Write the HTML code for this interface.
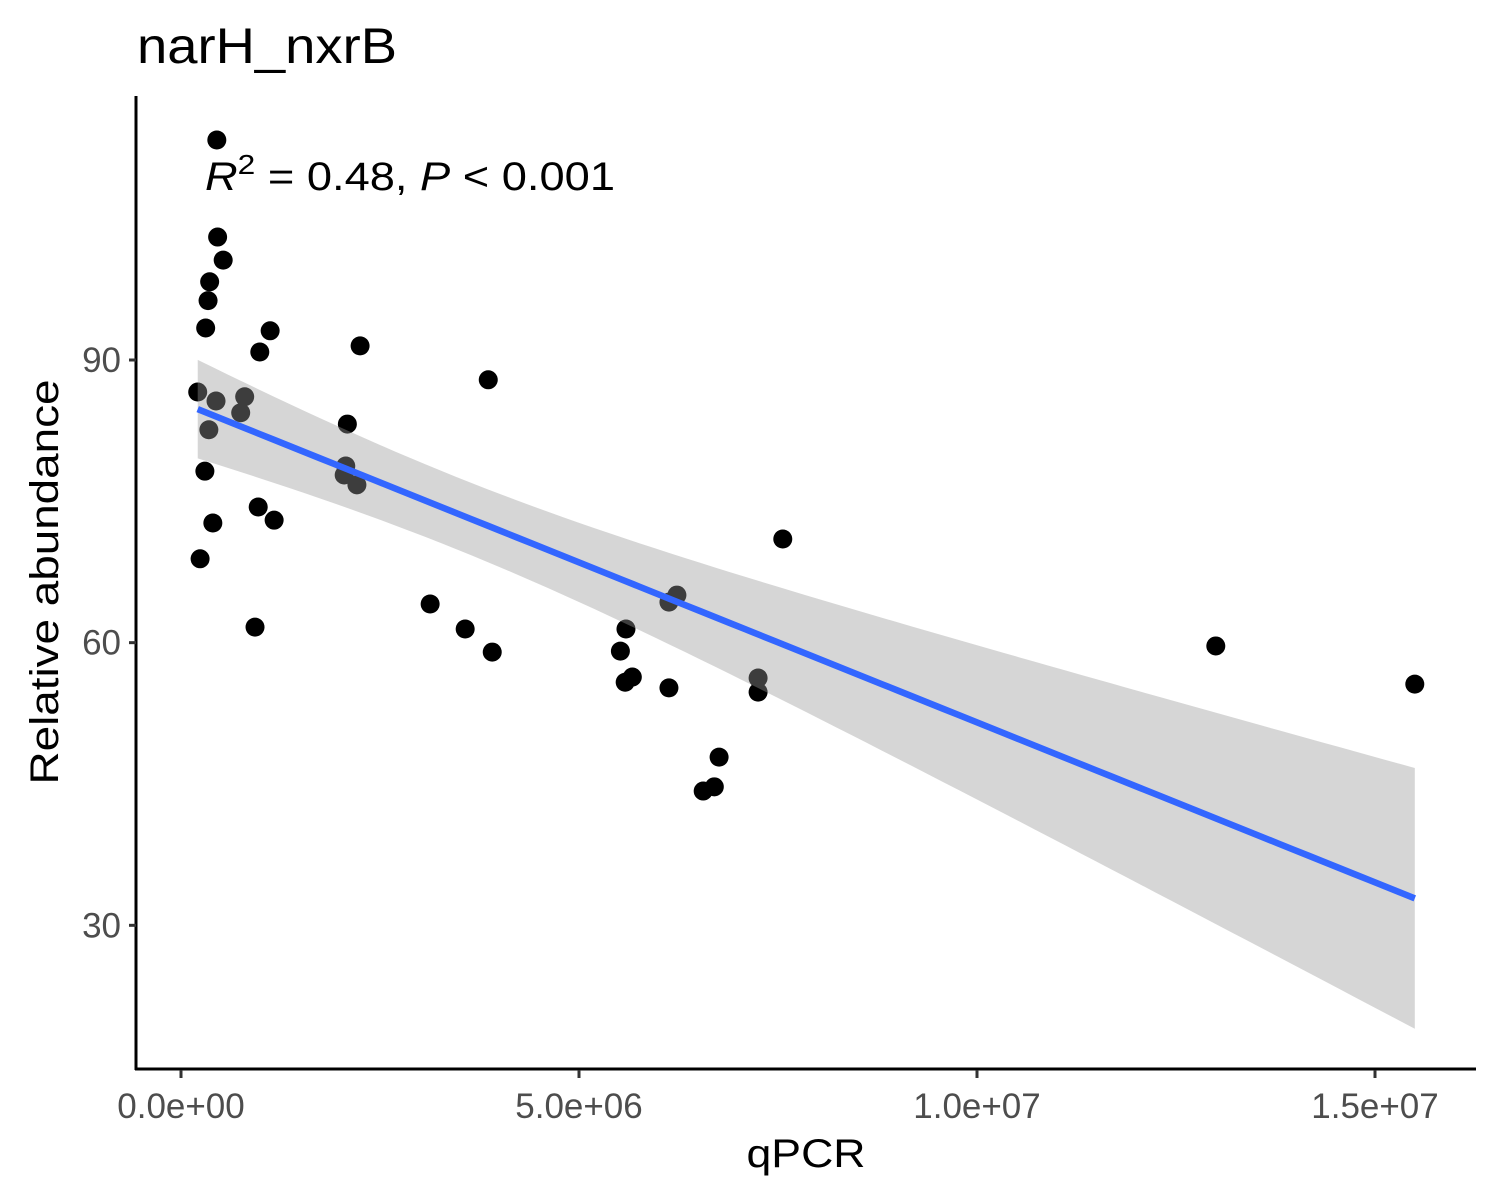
<!DOCTYPE html>
<html><head><meta charset="utf-8">
<style>
html,body{margin:0;padding:0;background:#fff;}
svg{display:block;font-family:"Liberation Sans",Arial,sans-serif;}
</style></head>
<body>
<svg id="chart" width="1500" height="1200" viewBox="0 0 1500 1200">
  <text x="137" y="63" font-size="50" textLength="260" lengthAdjust="spacingAndGlyphs" fill="#000">narH_nxrB</text>
  <g id="points"></g>
  <g id="smooth"></g>
  <text x="205" y="190" font-size="40" fill="#000" textLength="410" lengthAdjust="spacingAndGlyphs"><tspan font-style="italic">R</tspan><tspan dy="-16" font-size="28">2</tspan><tspan dy="16"> = 0.48, </tspan><tspan font-style="italic">P</tspan><tspan> &lt; 0.001</tspan></text>
  <line x1="136" y1="96" x2="136" y2="1070" stroke="#000" stroke-width="3"/>
  <line x1="135" y1="1069" x2="1476" y2="1069" stroke="#000" stroke-width="3"/>
  <g id="yticks"></g>
  <g id="xticks"></g>
  <text x="806" y="1167" font-size="40" text-anchor="middle" textLength="119" lengthAdjust="spacingAndGlyphs" fill="#000">qPCR</text>
  <text transform="translate(58,582) rotate(-90)" font-size="40" text-anchor="middle" textLength="405" lengthAdjust="spacingAndGlyphs" fill="#000">Relative abundance</text>
</svg>
<script>
// qPCR values in millions
const qpcr = [0.45,0.46,0.53,0.36,0.34,0.31,1.12,0.99,2.25,0.21,0.44,0.80,0.75,0.35,2.09,0.30,2.07,2.05,2.21,0.40,0.97,1.17,0.24,0.93,3.13,3.57,3.91,3.86,7.56,5.52,5.59,5.58,5.67,6.13,6.13,6.23,6.76,6.70,6.56,7.25,7.25,13.0,15.5];
const abundance = [113.35,103.05,100.6,98.3,96.3,93.4,93.1,90.85,91.5,86.6,85.65,86.1,84.4,82.6,83.2,78.2,78.75,77.8,76.75,72.7,74.4,73.0,68.9,61.65,64.1,61.45,59.0,87.9,71.0,59.1,61.45,55.8,56.35,55.2,64.3,65.05,47.85,44.7,44.25,56.25,54.75,59.65,55.6];
const yTickVals = [30,60,90];
const yTickLabels = ["30","60","90"];
const xTickVals = [0,5,10,15];
const xTickLabels = ["0.0e+00","5.0e+06","1.0e+07","1.5e+07"];

const NS = "http://www.w3.org/2000/svg";
function xs(v){ return 181 + v*79.6; }
function ys(v){ return 360 + (90 - v)*9.422; }
function mk(tag, attrs, parent){ const e=document.createElementNS(NS,tag); for(const k in attrs) e.setAttribute(k,attrs[k]); parent.appendChild(e); return e; }

const pts = document.getElementById('points');
for(let i=0;i<qpcr.length;i++){
  const c = mk('circle',{cx:xs(qpcr[i]),cy:ys(abundance[i]),r:9.5,fill:'#000'},pts);
  
  
}

// OLS fit with 95% CI
const n = qpcr.length;
const mx = qpcr.reduce((a,b)=>a+b,0)/n, my = abundance.reduce((a,b)=>a+b,0)/n;
let sxx=0, sxy=0;
for(let i=0;i<n;i++){ sxx+=(qpcr[i]-mx)**2; sxy+=(qpcr[i]-mx)*(abundance[i]-my); }
const b1 = sxy/sxx, b0 = my - b1*mx;
let sse=0; for(let i=0;i<n;i++){ sse+=(abundance[i]-b0-b1*qpcr[i])**2; }
const s = Math.sqrt(sse/(n-2)), t = 2.02;
const xmin = Math.min(...qpcr), xmax = Math.max(...qpcr);
const up=[], lo=[], mid=[];
for(let k=0;k<=80;k++){
  const x = xmin + (xmax-xmin)*k/80;
  const f = b0+b1*x, se = s*Math.sqrt(1/n + (x-mx)**2/sxx);
  up.push([xs(x),ys(f+t*se)]); lo.push([xs(x),ys(f-t*se)]); mid.push([xs(x),ys(f)]);
}
const sm = document.getElementById('smooth');
const rib = mk('path',{d:'M'+up.map(p=>p.join(',')).join('L')+'L'+lo.reverse().map(p=>p.join(',')).join('L')+'Z',fill:'#999999','fill-opacity':0.4},sm);


const ln = mk('path',{d:'M'+mid.map(p=>p.join(',')).join('L'),fill:'none',stroke:'#3366FF','stroke-width':6.5},sm);



const yt = document.getElementById('yticks');
yTickVals.forEach((v,i)=>{
  const y = ys(v);
  const l = mk('line',{x1:129,y1:y,x2:136,y2:y,stroke:'#333','stroke-width':3},yt);
  
  
  const tx = mk('text',{x:121,y:y+12,'font-size':35,'text-anchor':'end',fill:'#4D4D4D'},yt);
  tx.textContent = yTickLabels[i];
  
  
});
const xt = document.getElementById('xticks');
xTickVals.forEach((v,i)=>{
  const x = xs(v);
  const l = mk('line',{x1:x,y1:1070,x2:x,y2:1078,stroke:'#333','stroke-width':3},xt);
  
  
  const tx = mk('text',{x:x,y:1118,'font-size':35,'text-anchor':'middle',fill:'#4D4D4D'},xt);
  tx.textContent = xTickLabels[i];
  
  
});
</script>
</body></html>
